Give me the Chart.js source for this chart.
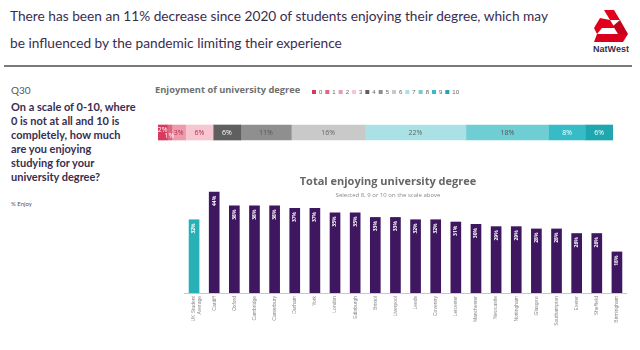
<!DOCTYPE html>
<html>
<head>
<meta charset="utf-8">
<script src="https://cdn.jsdelivr.net/npm/chart.js@4.4.0/dist/chart.umd.min.js"></script>
<style>
  body { margin: 0; width: 640px; height: 350px; background: #fff; position: relative; overflow: hidden; font-family: "Open Sans", sans-serif; }
  .abs { position: absolute; }
  #headline { left: 10px; top: 2px; width: 560px; font-family: Lato, sans-serif; font-size: 13.7px; line-height: 27px; color: #3a2d4f; }
  #rule { left: 4px; top: 65px; width: 628px; height: 2px; background: #7a7a7a; }
  #logo { left: 590px; top: 10px; width: 42px; text-align: center; line-height: 9px; }
  #logo span { font-family: "Liberation Sans", sans-serif; font-weight: bold; font-size: 9px; color: #3a2d4f; }
  #q { left: 11px; top: 84px; width: 150px; font-family: Lato, sans-serif; color: #3a2d4f; }
  #q .num { font-size: 10px; color: #555; margin-bottom: 4px; }
  #q .txt { font-size: 11px; font-weight: bold; line-height: 14px; }
  #q .sub { font-size: 6px; color: #555; margin-top: 16px; }
  #t1 { left: 155px; top: 83px; font-size: 9.3px; font-weight: bold; color: #707070; }
  #t2 { left: 250px; top: 173px; width: 276px; text-align: center; font-size: 11px; font-weight: bold; color: #666; z-index: 2; }
  #t2s { left: 250px; top: 191px; width: 276px; text-align: center; font-size: 6px; color: #888; z-index: 2; }
  canvas { position: absolute; }
</style>
</head>
<body>
<div id="headline" class="abs">There has been an 11% decrease since 2020 of students enjoying their degree, which may<br>be influenced by the pandemic limiting their experience</div>
<div id="logo" class="abs">
  <svg width="34" height="32" viewBox="0 0 34 32">
    <polygon points="10,0 20,0 26,10 16,10" fill="#e2001a"/>
    <polygon points="26,10 34,24 24,24 19,16" fill="#c4001a"/>
    <polygon points="16,10 21,18 8,18 3,24 0,18 6,8" fill="#e2001a"/>
    <polygon points="3,24 34,24 29,32 0,32" fill="#d8001c"/>
  </svg><br><span>NatWest</span>
</div>
<div id="rule" class="abs"></div>
<div id="q" class="abs">
  <div class="num">Q30</div>
  <div class="txt">On a scale of 0-10, where<br>0 is not at all and 10 is<br>completely, how much<br>are you enjoying<br>studying for your<br>university degree?</div>
  <div class="sub">% Enjoy</div>
</div>
<div id="t1" class="abs">Enjoyment of university degree</div>
<div id="t2" class="abs">Total enjoying university degree</div>
<div id="t2s" class="abs">Selected 8, 9 or 10 on the scale above</div>

<canvas id="scaleChart" width="475" height="74" style="left:150px; top:86px;"></canvas>
<canvas id="barGraph" width="443" height="172" style="left:184px; top:178px;"></canvas>

<script>
// distribution of 0-10 answers
const scalePoints = ['0', '1', '2', '3', '4', '5', '6', '7', '8', '9', '10']
const scaleShares = [2, 1, 3, 6, 6, 11, 16, 22, 18, 8, 6]
const scaleColors = ['#d63a5f', '#e26682', '#ee9aae', '#f6c6d1', '#5f5f5f', '#8f8f8f', '#c9c9c9', '#a9e1e5', '#6fcdd4', '#35bcc6', '#1fa7b0']
const scaleLabelColors = ['#fff', '#fff', '#b03050', '#b03050', '#fff', '#555', '#666', '#666', '#555', '#fff', '#fff']

// % enjoying (8-10) by city
const cities = [['UK Student', 'Average'], 'Cardiff', 'Oxford', 'Cambridge', 'Canterbury', 'Durham', 'York', 'London',
   'Edinburgh', 'Bristol', 'Liverpool', 'Leeds', 'Coventry', 'Leicester', 'Manchester', 'Newcastle', 'Nottingham',
   'Glasgow', 'Southampton', 'Exeter', 'Sheffield', 'Birmingham']
const enjoyPct = [32, 44, 38, 38, 38, 37, 37, 35, 35, 33, 33, 32, 32, 31, 30, 29, 29, 28, 28, 26, 26, 18]

const purple = '#3e1760'
const teal = '#27b1b7'

const segmentLabels = {
   id: 'segmentLabels',
   afterDatasetsDraw(chart) {
      const ctx = chart.ctx
      ctx.save()
      ctx.font = '7px "Open Sans"'
      ctx.textAlign = 'center'
      ctx.textBaseline = 'middle'
      chart.data.datasets.forEach((ds, i) => {
         const el = chart.getDatasetMeta(i).data[0]
         const p = el.getCenterPoint()
         let dy = 0
         if (ds.data[0] < 3) dy = i === 0 ? -3 : 3
         ctx.fillStyle = scaleLabelColors[i]
         ctx.fillText(ds.data[0] + '%', p.x, p.y + dy)
      })
      ctx.restore()
   }
}

new Chart(document.getElementById('scaleChart'), {
   type: 'bar',
   data: {
      labels: [''],
      datasets: scalePoints.map((s, i) => ({
         label: s,
         data: [scaleShares[i]],
         backgroundColor: scaleColors[i],
         borderWidth: 0
      }))
   },
   options: {
      indexAxis: 'y',
      responsive: false,
      animation: false,
      devicePixelRatio: 1,
      layout: { padding: { left: 8, right: 12, top: 0, bottom: 0 } },
      plugins: {
         legend: {
            position: 'top',
            align: 'center',
            labels: { boxWidth: 4, boxHeight: 4, padding: 3, font: { size: 6 }, color: '#666' }
         },
         tooltip: { enabled: false }
      },
      scales: {
         x: { stacked: true, display: false, min: 0, max: 99 },
         y: { stacked: true, display: false }
      },
      datasets: { bar: { barThickness: 15 } }
   },
   plugins: [segmentLabels]
});

const barLabels = {
   id: 'barLabels',
   afterDatasetsDraw(chart) {
      const ctx = chart.ctx
      const meta = chart.getDatasetMeta(0)
      ctx.save()
      ctx.font = 'bold 5px "Open Sans"'
      ctx.fillStyle = '#fff'
      ctx.textAlign = 'right'
      ctx.textBaseline = 'middle'
      meta.data.forEach((el, i) => {
         ctx.save()
         ctx.translate(el.x, el.y + 4)
         ctx.rotate(-Math.PI / 2)
         ctx.fillText(enjoyPct[i] + '%', 0, 0)
         ctx.restore()
      })
      ctx.restore()
   }
}

new Chart(document.getElementById('barGraph'), {
   type: 'bar',
   data: {
      labels: cities,
      datasets: [{
         label: '% Enjoy',
         data: enjoyPct,
         backgroundColor: enjoyPct.map((v, i) => i === 0 ? teal : purple),
         borderWidth: 0,
         categoryPercentage: 1,
         barPercentage: 0.53
      }]
   },
   options: {
      responsive: false,
      animation: false,
      devicePixelRatio: 1,
      layout: { padding: 0 },
      plugins: { legend: { display: false }, tooltip: { enabled: false } },
      scales: {
         x: {
            grid: { display: false, drawTicks: false },
            border: { color: '#c8c8c8', width: 1 },
            ticks: { minRotation: 90, maxRotation: 90, autoSkip: false, padding: 3, font: { size: 5 }, color: '#888' },
            afterFit(scale) { scale.height = 57 }
         },
         y: { display: false, min: 0, max: 50 }
      }
   },
   plugins: [barLabels]
});
</script>
</body>
</html>
